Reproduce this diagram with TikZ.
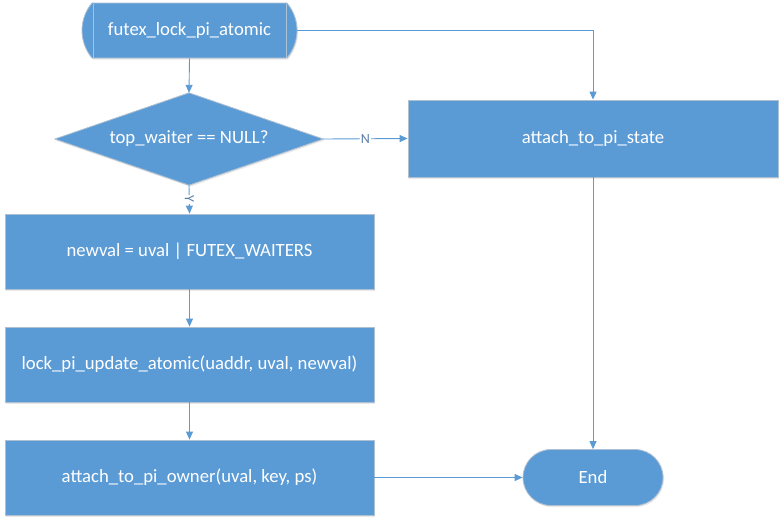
\documentclass[tikz,border=0pt]{standalone}
\usepackage{fontspec}
\setmainfont{Carlito}
\usetikzlibrary{shapes.geometric,shapes.misc,arrows.meta,shadows}
\definecolor{boxblue}{RGB}{91,155,213}
\definecolor{edgeblue}{RGB}{91,155,213}
\definecolor{rimgray}{RGB}{175,192,210}
\definecolor{lblblue}{RGB}{90,125,170}
\begin{document}
\begin{tikzpicture}[x=1pt,y=-1pt,
  every node/.style={font=\fontsize{18.7}{22}\selectfont, text=white},
  shape base/.style={fill=boxblue, draw=rimgray, line width=0.8pt,
     drop shadow={opacity=0.18, shadow xshift=1pt, shadow yshift=-1.5pt}},
  procbox/.style={shape base, rectangle, minimum width=369pt, minimum height=75pt, inner sep=0pt},
  termbox/.style={shape base, rounded rectangle, minimum width=140pt, minimum height=56pt, inner sep=0pt},
  startbox/.style={shape base, rounded rectangle, rounded rectangle arc length=80, minimum width=215pt, minimum height=55pt, inner sep=0pt},
  conn/.style={draw=edgeblue, line width=0.9pt, -{Triangle[length=8pt,width=7pt]}},
  lbl/.style={font=\fontsize{14}{16}\selectfont, text=lblblue, fill=white, inner sep=1pt}
]
\useasboundingbox (0,0) rectangle (783,523);
\node[startbox] (start) at (189.5,30.5) {futex\_lock\_pi\_atomic};
\draw[draw=rimgray, line width=0.8pt] (93,3.5) -- (93,57.5) (286,3.5) -- (286,57.5);
\node[rectangle, minimum width=268pt, minimum height=92pt, inner sep=0pt] (dec) at (189,139) {};
\path[shape base] (dec.north) -- (dec.east) -- (dec.south) -- (dec.west) -- cycle;
\node (dectext) at (dec.center) {top\_waiter == NULL?};
\node[shape base, rectangle, minimum width=370pt, minimum height=77pt, inner sep=0pt] (state) at (593,138.5) {attach\_to\_pi\_state};
\node[procbox] (newval) at (189.5,251.5) {newval = uval | FUTEX\_WAITERS};
\node[procbox] (upd) at (189.5,364.5) {lock\_pi\_update\_atomic(uaddr, uval, newval)};
\node[procbox] (owner) at (189.5,477.5) {attach\_to\_pi\_owner(uval, key, ps)};
\node[termbox] (end) at (593,477.5) {End};

\draw[conn] (start.south) -- (dec.north);
\draw[conn] (start.east) -- (start.east -| state.north) -- (state.north);
\draw[conn] (dec.east) -- node[lbl] {N} (state.west);
\draw[conn] (dec.south) -- node[lbl, rotate=-90] {Y} (newval.north);
\draw[conn] (newval.south) -- (upd.north);
\draw[conn] (upd.south) -- (owner.north);
\draw[conn] (owner.east) -- (end.west);
\draw[conn] (state.south) -- (end.north);
\end{tikzpicture}
\end{document}
